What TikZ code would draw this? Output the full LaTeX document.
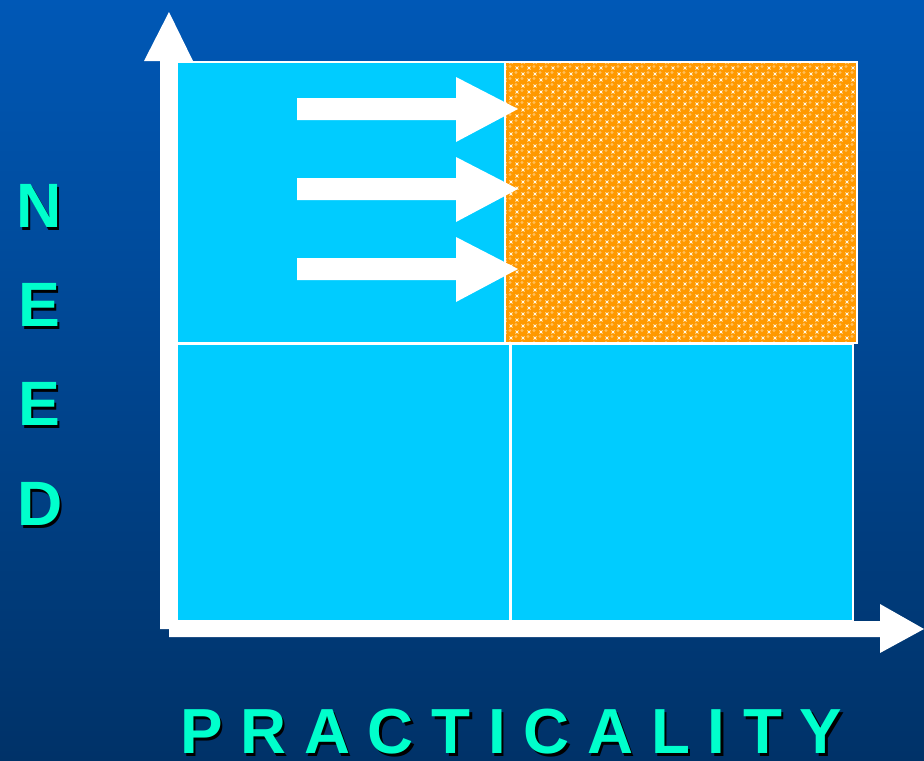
\documentclass[tikz,border=0pt]{standalone}
\usepackage{fontspec}
\setmainfont{Liberation Sans}
\definecolor{bgtop}{RGB}{0,88,182}
\definecolor{bgbot}{RGB}{0,50,104}
\definecolor{cellcyan}{RGB}{0,204,255}
\definecolor{dotorange}{RGB}{255,153,0}
\definecolor{dothi}{RGB}{255,190,90}
\definecolor{dotbg}{RGB}{255,248,230}
\definecolor{labelgreen}{RGB}{0,255,204}
\begin{document}
\begin{tikzpicture}[x=0.75pt,y=-0.75pt,
  lbl/.style={font=\fontsize{47}{47}\selectfont\bfseries, text=labelgreen, inner sep=0},
  lblshadow/.style={font=\fontsize{47}{47}\selectfont\bfseries, text=black, inner sep=0},
  widelbl/.style={font=\fontsize{47.8}{48}\selectfont\bfseries, inner sep=0},
  cell/.style={fill=cellcyan, draw=white, line width=1.2pt},
  whitearrow/.style={fill=white, draw=none}]
\useasboundingbox (0,0) rectangle (924,760);
\shade[top color=bgtop, bottom color=bgbot] (0,0) rectangle (924,760);

% quadrant cells
\path[cell] (177,62) rectangle (505,343);
\path[cell] (177,344) rectangle (510,621);
\path[cell] (511,344) rectangle (853,621);
% patterned cell
\begin{scope}
  \clip (505,62) rectangle (857,343);
  \fill[dotbg] (505,62) rectangle (857,343);
  \foreach \i in {0,...,30}{
    \foreach \j in {0,...,24}{
      \fill[dotorange] (505+\i*12,62+\j*12) circle (4.9);
      \fill[dothi] (504+\i*12,60.5+\j*12) circle (1.7);
      \fill[dotorange] (511+\i*12,68+\j*12) circle (4.9);
      \fill[dothi] (510+\i*12,66.5+\j*12) circle (1.7);
    }
  }
\end{scope}
\draw[white, line width=1.2pt] (505,62) rectangle (857,343);
\draw[white, line width=1.2pt] (177,61.5) -- (857,61.5);

% axes
\path[whitearrow] (160,61) -- (160,629) -- (177,629) -- (177,61) -- (193,61) -- (169,12) -- (144,61) -- cycle;
\path[whitearrow] (169,621) -- (880,621) -- (880,604) -- (924,629) -- (880,653) -- (880,637) -- (169,637) -- cycle;

% block arrows
\foreach \c in {109,189,269}{
  \path[whitearrow] (297,\c-11) -- (456,\c-11) -- (456,\c-32) -- (518,\c) -- (456,\c+33) -- (456,\c+11) -- (297,\c+11) -- cycle;
}

% NEED label
\node[lblshadow] (sN) at (41.5,208.5) {N};
\node[lbl] (lN) at (39,206) {N};
\node[lblshadow] (sE1) at (41.5,307.5) {E};
\node[lbl] (lE1) at (39,305) {E};
\node[lblshadow] (sE2) at (41.5,406.5) {E};
\node[lbl] (lE2) at (39,404) {E};
\node[lblshadow] (sD) at (42.5,506.5) {D};
\node[lbl] (lD) at (40,504) {D};

% PRACTICALITY label
\node[widelbl, text=black, anchor=base west] (sP) at (182.5,756) {P R A C T I C A L I T Y};
\node[widelbl, text=labelgreen, anchor=base west] (lP) at (180,753.5) {P R A C T I C A L I T Y};
\end{tikzpicture}
\end{document}
